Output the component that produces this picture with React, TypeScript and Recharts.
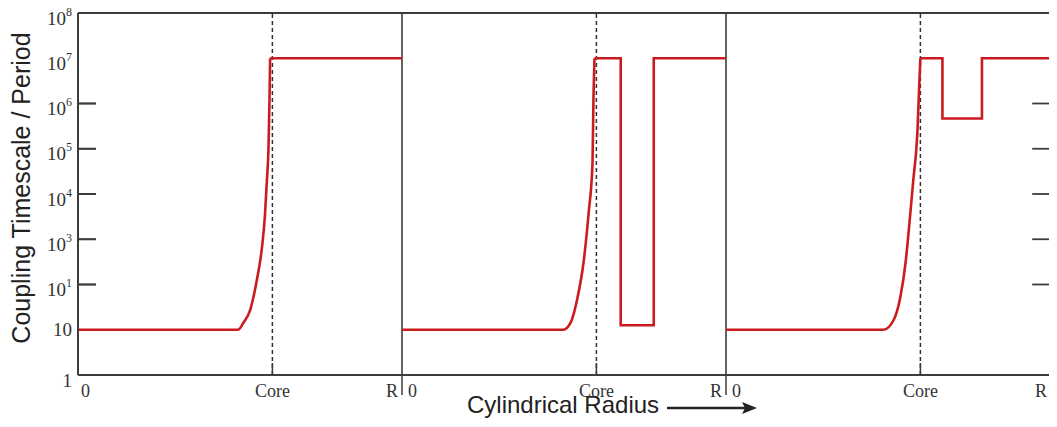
import { LineChart, Line, XAxis, YAxis, ReferenceLine, Label } from 'recharts';

// radius as a fraction of R inside each panel, value as log10 of the timescale
const panel1CurveRadius = [0, 0.494, 0.512, 0.531, 0.552, 0.568, 0.577, 0.583, 0.588, 0.591, 0.593];
const panel1CurveLog = [1, 1, 1.17, 1.43, 2.1, 2.83, 3.53, 4.3, 5.03, 6.07, 7];
const panel1StepRadius = [0.593, 1];
const panel1StepLog = [7, 7];

const panel2CurveRadius = [0, 0.498, 0.52, 0.542, 0.56, 0.576, 0.588, 0.591, 0.594];
const panel2CurveLog = [1, 1, 1.15, 1.72, 2.47, 3.58, 4.68, 6.14, 7];
const panel2StepRadius = [0.594, 0.675, 0.675, 0.777, 0.777, 1];
const panel2StepLog = [7, 7, 1.1, 1.1, 7, 7];

const panel3CurveRadius = [0, 0.486, 0.517, 0.538, 0.554, 0.569, 0.578, 0.591, 0.597, 0.6];
const panel3CurveLog = [1, 1, 1.21, 1.72, 2.47, 3.58, 4.3, 5.41, 6.51, 7];
const panel3StepRadius = [0.6, 0.668, 0.668, 0.79, 0.79, 1];
const panel3StepLog = [7, 7, 5.67, 5.67, 7, 7];

const coreFraction = 0.6;
const panelCount = 3;

const yLevels = [0, 1, 2, 3, 4, 5, 6, 7, 8];
const yBase = ['1', '10', '10', '10', '10', '10', '10', '10', '10'];
const yExp = ['', '', '1', '3', '4', '5', '6', '7', '8'];
const innerTickLevels = [2, 3, 4, 5, 6];
const yMax = 8;

const yTitle = 'Coupling Timescale / Period';
const xTitle = 'Cylindrical Radius';

const RED = '#cc1b1f';
const AXIS = '#3c3c3c';
const SERIF = '"Liberation Serif", "Times New Roman", serif';
const SANS = '"Liberation Sans", Arial, sans-serif';
const TICK_LEN = 0.055; // inward tick length, in panel units
const TICK_PX = 18;

const toSeries = (radius: number[], logs: number[], panel: number) =>
  radius.map((r, i) => ({ x: r + panel, y: logs[i] }));

const curves = [
  toSeries(panel1CurveRadius, panel1CurveLog, 0),
  toSeries(panel2CurveRadius, panel2CurveLog, 1),
  toSeries(panel3CurveRadius, panel3CurveLog, 2),
];
const steps = [
  toSeries(panel1StepRadius, panel1StepLog, 0),
  toSeries(panel2StepRadius, panel2StepLog, 1),
  toSeries(panel3StepRadius, panel3StepLog, 2),
];

const panelEdges = Array.from({ length: panelCount + 1 }, (_, i) => i);
const coreLines = Array.from({ length: panelCount }, (_, i) => i + coreFraction);
const xTicks = [...panelEdges, ...coreLines].sort((a, b) => a - b);

function YTick(props: any) {
  const { x, y, payload } = props;
  const value = Number(payload.value);
  const i = yLevels.indexOf(value);
  const exp = yExp[i];
  // the "10" sits a little under the level when it carries an exponent
  const shift = exp || i === 0 ? 5 : 0;
  return (
    <text x={x} y={y + shift} dy="0.35em" textAnchor="end" fontFamily={SERIF} fontSize={19} fill="#333">
      {yBase[i]}
      {exp && (
        <tspan dy={-9} fontSize={12}>
          {exp}
        </tspan>
      )}
    </text>
  );
}

function XTick(props: any) {
  const { x, y, payload } = props;
  const v: number = payload.value;
  const frac = v - Math.floor(v);
  const ty = y + 22;
  const common = { fontFamily: SERIF, fontSize: 18, fill: '#333' };
  if (Math.abs(frac - coreFraction) < 1e-6) {
    return (
      <g>
        <line x1={x} x2={x} y1={y} y2={y - 12} stroke={AXIS} strokeWidth={1.5} />
        <text x={x} y={ty} textAnchor="middle" {...common}>
          Core
        </text>
      </g>
    );
  }
  if (v === 0) {
    return (
      <text x={x + 3} y={ty} textAnchor="start" {...common}>
        0
      </text>
    );
  }
  if (v === panelCount) {
    return (
      <text x={x - 3} y={ty} textAnchor="end" {...common}>
        R
      </text>
    );
  }
  return (
    <g>
      <line x1={x} x2={x} y1={y} y2={y + 20} stroke={AXIS} strokeWidth={1.5} />
      <text x={x - 4} y={ty} textAnchor="end" {...common}>
        R
      </text>
      <text x={x + 6} y={ty} textAnchor="start" {...common}>
        0
      </text>
    </g>
  );
}

export default function App() {
  return (
    <div style={{ width: 1057, height: 427, margin: -8 }}>
      <LineChart width={1057} height={427} margin={{ top: 13, right: 7, bottom: 0, left: 0 }}>
        <XAxis
          type="number"
          dataKey="x"
          domain={[0, panelCount]}
          ticks={xTicks}
          interval={0}
          tick={<XTick />}
          tickLine={false}
          tickSize={0}
          tickMargin={0}
          height={52}
          axisLine={{ stroke: AXIS, strokeWidth: 2 }}
          allowDuplicatedCategory={false}
        >
          <Label
            content={(p: any) => {
              const vb = p.viewBox;
              const tx = vb.x + 389;
              const ty = vb.y + 38;
              return (
                <g>
                  <text x={tx} y={ty} fontFamily={SANS} fontSize={24} fill="#222">
                    {xTitle}
                  </text>
                  <line x1={tx + 200} x2={tx + 280} y1={ty - 5} y2={ty - 5} stroke="#222" strokeWidth={2.5} />
                  <polygon
                    points={`${tx + 290},${ty - 5} ${tx + 275},${ty - 11} ${tx + 278},${ty - 5} ${tx + 275},${ty + 1}`}
                    fill="#222"
                  />
                </g>
              );
            }}
          />
        </XAxis>
        <YAxis
          type="number"
          domain={[0, yMax]}
          ticks={yLevels}
          interval={0}
          width={78}
          tick={<YTick />}
          tickLine={false}
          tickSize={0}
          tickMargin={6}
          axisLine={{ stroke: AXIS, strokeWidth: 2 }}
        >
          <Label
            content={(p: any) => {
              const vb = p.viewBox;
              const cx = vb.x + 21;
              const cy = vb.y + vb.height / 2 - 6;
              const axisX = vb.x + vb.width;
              return (
                <g>
                  {innerTickLevels.map((l) => {
                    const ly = vb.y + vb.height * (1 - l / yMax);
                    return (
                      <line
                        key={`lab-tick-${l}`}
                        x1={axisX}
                        x2={axisX + TICK_PX}
                        y1={ly}
                        y2={ly}
                        stroke={AXIS}
                        strokeWidth={1.8}
                      />
                    );
                  })}
                  <text
                    x={cx}
                    y={cy}
                    transform={`rotate(-90 ${cx} ${cy})`}
                    textAnchor="middle"
                    dominantBaseline="central"
                    fontFamily={SANS}
                    fontSize={25}
                    fill="#222"
                  >
                    {yTitle}
                  </text>
                </g>
              );
            }}
          />
        </YAxis>
        <ReferenceLine y={yMax} stroke={AXIS} strokeWidth={2} />
        <ReferenceLine x={panelCount} stroke={AXIS} strokeWidth={2} />
        {innerTickLevels.map((l) => (
          <ReferenceLine
            key={`lt-${l}`}
            segment={[{ x: 0.001, y: l }, { x: TICK_LEN, y: l }]}
            ifOverflow="visible"
            stroke={AXIS}
            strokeWidth={1.8}
          />
        ))}
        {innerTickLevels.map((l) => (
          <ReferenceLine
            key={`rt-${l}`}
            segment={[{ x: panelCount - TICK_LEN, y: l }, { x: panelCount, y: l }]}
            ifOverflow="visible"
            stroke={AXIS}
            strokeWidth={1.8}
          />
        ))}
        {panelEdges.slice(1, -1).map((e) => (
          <ReferenceLine key={`edge-${e}`} x={e} stroke={AXIS} strokeWidth={1.6} />
        ))}
        {coreLines.map((c) => (
          <ReferenceLine key={`core-${c}`} x={c} stroke="#333" strokeWidth={1.5} strokeDasharray="4 3" />
        ))}
        {curves.map((data, i) => (
          <Line
            key={`curve-${i}`}
            data={data}
            dataKey="y"
            type="monotoneX"
            stroke={RED}
            strokeWidth={2.6}
            dot={false}
            activeDot={false}
            isAnimationActive={false}
          />
        ))}
        {steps.map((data, i) => (
          <Line
            key={`step-${i}`}
            data={data}
            dataKey="y"
            type="linear"
            stroke={RED}
            strokeWidth={2.6}
            dot={false}
            activeDot={false}
            isAnimationActive={false}
          />
        ))}
      </LineChart>
    </div>
  );
}
